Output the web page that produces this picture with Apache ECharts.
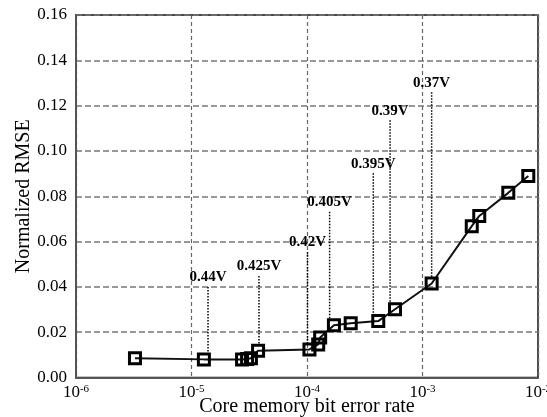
<!DOCTYPE html>
<html>
<head>
<meta charset="utf-8">
<script src="https://cdn.jsdelivr.net/npm/echarts@6/dist/echarts.min.js"></script>
<style>html,body{margin:0;padding:0;background:#fff}#c{width:547px;height:417px}</style>
</head>
<body>
<div id="c"></div>
<script>
// Main curve: core memory bit error rate vs normalized RMSE
const errRate = [3.24e-6, 1.28e-5, 2.74e-5, 3.03e-5, 3.27e-5, 3.77e-5, 1.05e-4, 1.25e-4, 1.30e-4, 1.71e-4, 2.39e-4, 4.14e-4, 5.78e-4, 1.20e-3, 2.67e-3, 3.10e-3, 5.53e-3, 8.24e-3];
const rmse    = [0.0085, 0.0080, 0.0080, 0.0082, 0.0085, 0.0118, 0.0124, 0.0146, 0.0177, 0.0231, 0.0239, 0.0249, 0.0301, 0.0415, 0.0668, 0.0713, 0.0815, 0.0889];

// Voltage annotations (leader lines)
const voltLabels = ['0.44V', '0.425V', '0.42V', '0.405V', '0.395V', '0.39V', '0.37V'];
const leaderX      = [1.39e-5, 3.84e-5, 1.01e-4, 1.57e-4, 3.75e-4, 5.24e-4, 1.20e-3];
const leaderTop    = [0.0399, 0.0448, 0.0554, 0.0732, 0.0901, 0.1136, 0.1259];
const leaderBottom = [0.0103, 0.0143, 0.0152, 0.0258, 0.0275, 0.0328, 0.0443];

const yTicks = { min: 0, max: 0.16, interval: 0.02 };
const xRange = { min: 1e-6, max: 1e-2 };

const FONT = '"Liberation Serif", "Times New Roman", serif';

const curve = errRate.map((x, i) => [x, rmse[i]]);
const leaders = leaderX.map((x, i) => [x, leaderTop[i], leaderBottom[i]]);

const chart = echarts.init(document.getElementById('c'), null, { renderer: 'canvas' });
chart.setOption({
  animation: false,
  backgroundColor: '#fff',
  grid: { left: 76, right: 9, top: 15, bottom: 39.5, containLabel: false, outerBoundsMode: 'none',
          show: true, borderColor: '#111', borderWidth: 1.5, backgroundColor: 'transparent' },
  xAxis: {
    type: 'log', logBase: 10, min: xRange.min, max: xRange.max,
    name: 'Core memory bit error rate', nameLocation: 'middle', nameGap: 19, nameMoveOverlap: false,
    nameTextStyle: { fontFamily: FONT, fontSize: 20, color: '#000' },
    axisLine: { show: true, lineStyle: { color: '#555', width: 2 } },
    axisTick: { show: false },
    minorTick: { show: false },
    splitLine: { show: true, lineStyle: { color: '#666', width: 1.2, type: [4, 3] } },
    axisLabel: {
      margin: 6,
      formatter: function (v) { const e = Math.round(Math.log10(v)); return '{b|10}{s|' + e + '}'; },
      rich: {
        b: { fontFamily: FONT, fontSize: 17, color: '#000', verticalAlign: 'bottom', lineHeight: 18 },
        s: { fontFamily: FONT, fontSize: 11, color: '#000', verticalAlign: 'top', lineHeight: 18, padding: [0, 0, 8, 0] }
      }
    }
  },
  yAxis: {
    type: 'value', min: yTicks.min, max: yTicks.max, interval: yTicks.interval,
    name: 'Normalized RMSE', nameLocation: 'middle', nameGap: 42, nameMoveOverlap: false,
    nameTextStyle: { fontFamily: FONT, fontSize: 20, color: '#000' },
    axisLine: { show: true, lineStyle: { color: '#555', width: 2 } },
    axisTick: { show: false },
    splitLine: { show: true, lineStyle: { color: '#777', width: 1.5, type: [6, 3] } },
    axisLabel: { margin: 9, fontFamily: FONT, fontSize: 17, color: '#000', formatter: v => v.toFixed(2) }
  },
  series: [
    {
      type: 'custom',
      coordinateSystem: 'cartesian2d',
      data: leaders,
      encode: { x: 0, y: [1, 2] },
      silent: true,
      z: 3,
      renderItem: function (params, api) {
        const x = api.value(0), t = api.value(1), b = api.value(2);
        const p1 = api.coord([x, t]);
        const p2 = api.coord([x, b]);
        return {
          type: 'group',
          children: [
            { type: 'line', shape: { x1: p1[0], y1: p1[1], x2: p2[0], y2: p2[1] },
              style: { stroke: '#000', lineWidth: 1.5, lineDash: [1.5, 1.5] } },
            { type: 'text', x: p1[0], y: p1[1] - 2,
              style: { text: voltLabels[params.dataIndex], font: 'bold 15px ' + FONT, fill: '#000',
                       align: 'center', verticalAlign: 'bottom', textAlign: 'center', textVerticalAlign: 'bottom' } }
          ]
        };
      }
    },
    {
      type: 'line',
      data: curve,
      z: 4,
      symbol: 'rect',
      symbolSize: 11,
      lineStyle: { color: '#111', width: 2 },
      itemStyle: { color: 'rgba(255,255,255,0)', borderColor: '#000', borderWidth: 3 }
    }
  ]
});
</script>
</body>
</html>
